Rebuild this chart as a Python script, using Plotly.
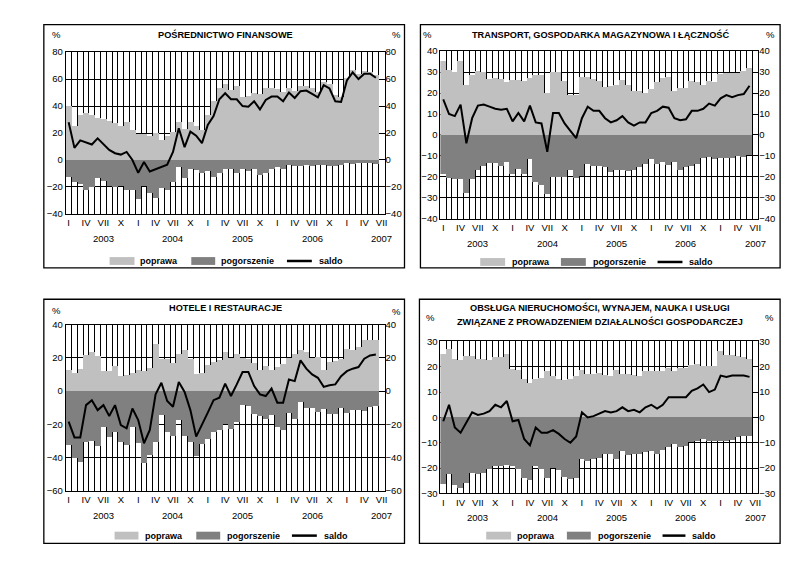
import plotly.graph_objects as go

# ---------------- data (Jan 2003 .. Jun 2007, 54 months; axis has 55 slots up to VII 2007) ----------------
month_slots = list(range(55))
month_idx = list(range(54))
tick_positions = list(range(0, 55, 3))
month_names = {0: "I", 3: "IV", 6: "VII", 9: "X"}
year_positions = [6, 18, 30, 42, 54]
year_labels = ["2003", "2004", "2005", "2006", "2007"]

fin_poprawa = [40, 25, 33, 34.5, 33, 31, 30, 28.5, 27, 25, 28, 22, 19, 19, 18, 20, 15, 18, 21, 28, 23, 28, 25, 22,
               33, 43.5, 53, 56, 51.5, 54.5, 47, 47.5, 49.5, 48.5, 53, 53.5, 52.5, 50.5, 53.5, 51, 55, 55, 53, 50.5,
               58, 56, 48, 46.5, 60.5, 67, 64, 66, 65.5, 63]
fin_pogorszenie = [-12.5, -16.5, -18, -22, -20, -13.5, -15.5, -19.5, -20, -19.5, -22, -22, -29, -19.5, -24.5, -28,
                   -20.5, -22, -16.5, -5, -13.5, -7, -7.5, -10, -8.5, -12.5, -9.5, -7, -7, -10, -7, -8, -6.5, -11.5,
                   -9.5, -7, -5.5, -7, -4, -4.5, -4.5, -4, -4.5, -4, -4, -4.5, -4.5, -3.5, -2.5, -3, -2.5, -2.5,
                   -2.5, -3]
fin_saldo = [28, 9, 14.5, 13, 11.5, 16, 12, 7.5, 5, 4, 6, 0, -9.5, -1.5, -8.5, -7, -5, -3.5, 6, 23.5, 9.5, 21, 18,
             12.5, 26, 32.5, 45, 49.5, 45, 45, 40, 39.5, 43.5, 37.5, 44.5, 47, 47, 43.5, 50, 46, 51, 51.5, 49, 46.5,
             55.5, 53, 43.5, 43, 59, 65, 60, 64, 64, 61]

tr_poprawa = [35, 31, 30, 35, 24, 28.5, 30.5, 30, 26.5, 27, 26.5, 25, 26, 26, 25.5, 27, 28.5, 28.5, 20, 30, 30, 25.5,
              19, 19, 27.5, 27.5, 26.5, 25.5, 23, 23.5, 24, 26, 24, 21, 21, 20, 22, 25, 27, 27.5, 21, 22.5, 22.5,
              25.5, 25, 24, 25.5, 25, 29, 29.5, 29.5, 29.5, 30.5, 32]
tr_pogorszenie = [-18.5, -20.5, -21, -21, -27.8, -21.2, -17, -15, -13.5, -13.5, -14.7, -13, -18.5, -16.3, -18.5,
                  -11.6, -22.3, -24, -28, -20, -20, -20, -16.7, -20.8, -19.7, -14, -15, -15, -15.3, -17.5, -16.6,
                  -16.6, -17.4, -16.6, -15.5, -14, -11.6, -14, -13, -14.4, -13, -16.7, -15.5, -15, -14, -10.8, -10.5,
                  -11.3, -11.2, -11.2, -11.2, -10.3, -10.5, -9.5]
tr_saldo = [17, 10, 9, 14.5, -4, 8, 14, 14.5, 13.5, 12.5, 12, 12.5, 6.5, 10.5, 6.5, 14, 6, 5.5, -8, 10.5, 10.5, 5.5,
            2, -1.5, 8, 13.5, 11.5, 11.5, 8, 6, 7, 9, 6, 4.5, 6, 6, 10.5, 11.5, 13.5, 13, 8, 7, 7.5, 11.5, 11.5,
            12.5, 15, 14, 17.5, 19, 18, 19, 19.5, 23.5]

ho_poprawa = [13, 11, 13.5, 22, 24, 21, 12.5, 12, 15.5, 9.5, 10, 11, 13, 12.5, 14, 28.5, 19.5, 19.5, 17, 22.5, 25,
              19.5, 10.5, 11, 16, 17.5, 19, 24, 20, 22.5, 20, 19.5, 17, 13, 15, 13, 14.5, 16.5, 20, 22.5, 25, 24, 20,
              20.5, 13, 17.5, 18, 19.5, 25.5, 25, 26.5, 31, 31, 31]
ho_pogorszenie = [-32.5, -40, -42.5, -30.5, -30, -33, -21.5, -27.5, -24.5, -30.5, -32.5, -21.5, -31, -43, -38.5,
                  -30.5, -14.5, -24.5, -27, -17.5, -27, -30.5, -39, -31.5, -29, -24.5, -23.5, -20, -22.5, -18.5,
                  -8.5, -9, -13.8, -15, -17, -14.5, -21.7, -23.5, -13, -16.8, -6.2, -10.3, -10.2, -12.3, -10.4,
                  -13.8, -13.8, -10, -13.2, -11.3, -11.5, -11.6, -9.4, -8.9]
ho_saldo = [-18.5, -28, -28, -8.5, -5.5, -11.5, -8.5, -15, -8.5, -20.5, -22.5, -10.5, -17.5, -31.5, -23.5, -2, 5,
            -6, -9.5, 5.5, -0.5, -11.5, -27.5, -20.5, -13, -5.5, -4, 4.5, -3, 4, 11.5, 11.5, 3, -2, -3, 1.5, -7, -7,
            7, 6, 18.5, 13.5, 10, 8, 2.5, 3.5, 4, 9, 12, 13.5, 14.5, 19.5, 21.5, 22]

ob_poprawa = [25, 27, 23, 22.5, 24, 24, 23, 23, 22.5, 23.5, 23.5, 25, 19, 18.5, 15, 13.5, 15, 15.5, 18, 16, 15,
              14.5, 15, 16, 18.5, 17, 17, 17.5, 16.5, 16, 18.5, 17, 17, 16.5, 16, 18, 18, 18, 18, 19.5, 18, 19.5,
              19.5, 20.5, 21, 20, 20, 20, 26, 24.5, 24.5, 24, 23.5, 23]
ob_pogorszenie = [-26.5, -22.5, -27, -28, -26, -22, -22.5, -22, -20.5, -19.5, -19.5, -19, -19.5, -20.5, -24, -25,
                  -19.5, -20.5, -24, -20, -21, -23.5, -24.5, -24, -16.5, -17.5, -16.5, -16, -14.5, -14.5, -16.5,
                  -13.5, -15, -14.5, -14.5, -14, -13.5, -14.5, -13, -12, -10.5, -12, -11.5, -10, -9.5, -8.5, -9.5,
                  -9.5, -9.5, -9.5, -9, -8, -7.5, -7.5]
ob_saldo = [-1.5, 5, -4, -6, -2, 2, 1, 1.5, 2.5, 5, 4, 6.5, -1.5, -1, -8.5, -11, -4, -6, -6, -5, -6.5, -8.5, -10,
            -7.5, 2, 0, 0.5, 1.5, 2.5, 2, 2.5, 4, 2.5, 3, 2, 4, 5, 3.5, 5, 8, 8, 8, 8, 10.5, 11.5, 13, 10, 11, 16.5,
            16, 16.5, 16.5, 16.5, 16]

titles = [
    ["POŚREDNICTWO FINANSOWE"],
    ["TRANSPORT, GOSPODARKA MAGAZYNOWA I ŁĄCZNOŚĆ"],
    ["HOTELE I RESTAURACJE"],
    ["OBSŁUGA NIERUCHOMOŚCI, WYNAJEM, NAUKA I USŁUGI", "ZWIĄZANE Z PROWADZENIEM DZIAŁALNOŚCI GOSPODARCZEJ"],
]
series = [
    (fin_poprawa, fin_pogorszenie, fin_saldo),
    (tr_poprawa, tr_pogorszenie, tr_saldo),
    (ho_poprawa, ho_pogorszenie, ho_saldo),
    (ob_poprawa, ob_pogorszenie, ob_saldo),
]
y_ranges = [(-40, 80, 20), (-40, 40, 10), (-60, 40, 20), (-30, 30, 10)]
legend_names = ["poprawa", "pogorszenie", "saldo"]

# ---------------- layout geometry (pixels) ----------------
W, H = 811, 572
FONT = "Liberation Sans, Arial, sans-serif"
LIGHT = "#c0c0c0"
DARK = "#808080"
TICK_SIZE = 9.5
TITLE_SIZE = 9.2
LEG_SIZE = 9

panels = [
    dict(plot=(66, 386, 47, 212), frame=(44, 406, 19, 267), title_y=[29], title_x=226,
         pct=((57, 29), (398, 29)), year_y=237, leg_y=260,
         leg=((110, 135, 139), (192, 216, 220), (288, 313, 318))),
    dict(plot=(442, 761, 46, 217), frame=(422, 783, 19, 267), title_y=[29], title_x=603,
         pct=((429, 29), (773, 29)), year_y=242, leg_y=261,
         leg=((482, 507, 512), (563, 588, 593), (660, 685, 690))),
    dict(plot=(66, 386, 325, 494), frame=(44, 406, 299, 548), title_y=[308], title_x=226,
         pct=((57, 310), (398, 311)), year_y=519, leg_y=540,
         leg=((115, 139, 144), (197, 221, 226), (293, 318, 323))),
    dict(plot=(442, 761, 342, 497), frame=(421, 783, 299, 548), title_y=[307, 322], title_x=602,
         pct=((432, 318), (772, 318)), year_y=522, leg_y=540,
         leg=((488, 513, 517), (569, 593, 598), (665, 688, 693))),
]


def px(x):
    return x / W


def py(y):
    return 1 - y / H


fig = go.Figure()
shapes = []
annotations = []
layout = {}

tick_text = [month_names[p % 12] for p in tick_positions]

for k, (pan, ser, yr, ttl) in enumerate(zip(panels, series, y_ranges, titles), start=1):
    sx = "" if k == 1 else str(k)
    xname, yname, y2name = f"x{sx}", f"y{sx}", f"y{k + 4}"
    pop, pog, sal = ser
    fig.add_trace(go.Bar(x=month_idx, y=pop, width=1, marker=dict(color=LIGHT, line=dict(width=0)),
                         xaxis=xname, yaxis=yname, name="poprawa", showlegend=False))
    fig.add_trace(go.Bar(x=month_idx, y=pog, width=1, marker=dict(color=DARK, line=dict(width=0)),
                         xaxis=xname, yaxis=yname, name="pogorszenie", showlegend=False))
    fig.add_trace(go.Scatter(x=month_idx, y=sal, mode="lines", line=dict(color="black", width=2),
                             xaxis=xname, yaxis=yname, name="saldo", showlegend=False))
    fig.add_trace(go.Scatter(x=[None], y=[None], mode="lines", xaxis=xname, yaxis=y2name,
                             showlegend=False, hoverinfo="skip"))

    x0, x1, y0, y1 = pan["plot"]
    lo, hi, dt = yr
    tickfont = dict(family=FONT, size=TICK_SIZE, color="black")
    layout[f"xaxis{sx}"] = dict(
        domain=[px(x0), px(x1)], anchor=yname, range=[-0.5, 54.5],
        tickmode="array", tickvals=tick_positions, ticktext=tick_text,
        showgrid=False, zeroline=False, showline=True, linecolor="black", linewidth=1, mirror=True,
        ticks="", tickfont=tickfont,
        minor=dict(tick0=0.5, dtick=1, showgrid=True, gridcolor="black", gridwidth=1, ticks=""),
    )
    layout[f"yaxis{sx}"] = dict(
        domain=[py(y1), py(y0)], anchor=xname, range=[lo, hi], dtick=dt, tick0=lo,
        showgrid=True, gridcolor="black", gridwidth=1, zeroline=False,
        showline=True, linecolor="black", linewidth=1, mirror=True, ticks="", tickfont=tickfont,
    )
    layout[f"yaxis{k + 4}"] = dict(
        overlaying=yname, side="right", anchor=xname, range=[lo, hi], dtick=dt, tick0=lo,
        showgrid=False, zeroline=False, showline=False, ticks="", tickfont=tickfont,
    )

    # year labels under VII ticks
    for pos, lab in zip(year_positions, year_labels):
        annotations.append(dict(x=pos, xref=xname, y=py(pan["year_y"]), yref="paper", text=lab,
                                showarrow=False, font=dict(family=FONT, size=TICK_SIZE, color="black"),
                                xanchor="center", yanchor="middle"))
    # frame
    fx0, fx1, fy0, fy1 = pan["frame"]
    shapes.append(dict(type="rect", xref="paper", yref="paper", x0=px(fx0), x1=px(fx1), y0=py(fy1), y1=py(fy0),
                       line=dict(color="black", width=1.3), fillcolor="rgba(0,0,0,0)", layer="above"))
    # titles
    for line, ty in zip(ttl, pan["title_y"]):
        annotations.append(dict(x=px(pan["title_x"]), y=py(ty), xref="paper", yref="paper", text=f"<b>{line}</b>",
                                showarrow=False, font=dict(family=FONT, size=TITLE_SIZE, color="black"),
                                xanchor="center", yanchor="middle"))
    # percent signs
    for (pxx, pyy) in pan["pct"]:
        annotations.append(dict(x=px(pxx), y=py(pyy), xref="paper", yref="paper", text="%", showarrow=False,
                                font=dict(family=FONT, size=TICK_SIZE, color="black"),
                                xanchor="center", yanchor="middle"))
    # legend
    ly = pan["leg_y"]
    (a0, a1, at), (b0, b1, bt), (c0, c1, ct) = pan["leg"]
    shapes.append(dict(type="rect", xref="paper", yref="paper", x0=px(a0), x1=px(a1), y0=py(ly + 4), y1=py(ly - 4),
                       line=dict(width=0), fillcolor=LIGHT))
    shapes.append(dict(type="rect", xref="paper", yref="paper", x0=px(b0), x1=px(b1), y0=py(ly + 4), y1=py(ly - 4),
                       line=dict(width=0), fillcolor=DARK))
    shapes.append(dict(type="line", xref="paper", yref="paper", x0=px(c0), x1=px(c1), y0=py(ly), y1=py(ly),
                       line=dict(color="black", width=2.5)))
    for name, tx in zip(legend_names, (at, bt, ct)):
        annotations.append(dict(x=px(tx), y=py(ly), xref="paper", yref="paper", text=f"<b>{name}</b>",
                                showarrow=False, font=dict(family=FONT, size=LEG_SIZE, color="black"),
                                xanchor="left", yanchor="middle"))

fig.update_layout(
    width=W, height=H, margin=dict(l=0, r=0, t=0, b=0),
    paper_bgcolor="white", plot_bgcolor="white",
    barmode="relative", bargap=0, showlegend=False,
    shapes=shapes, annotations=annotations, **layout,
)

fig.write_html("out.html", config={"displayModeBar": False},
               post_script="document.body.style.margin='0';")
